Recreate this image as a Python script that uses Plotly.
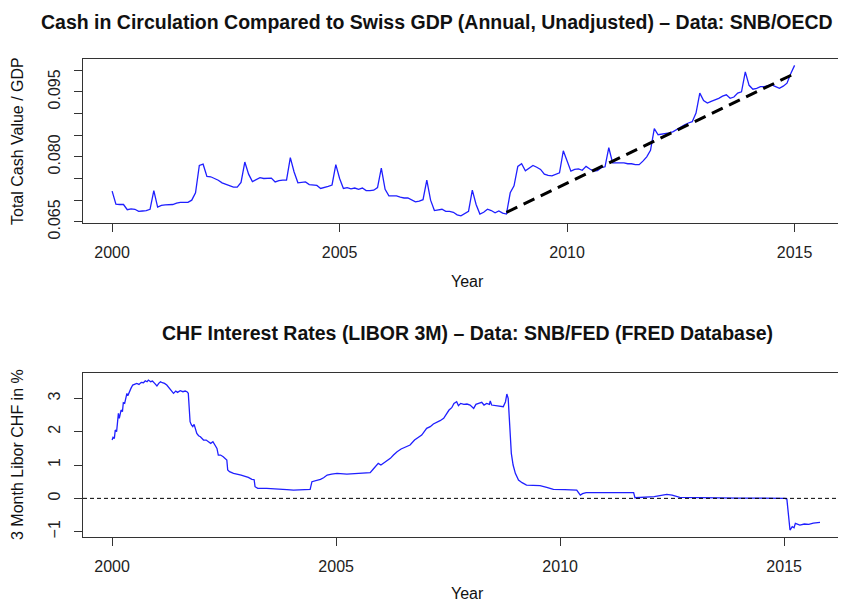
import plotly.graph_objects as go

# ---------------- Data ----------------
# Cash in circulation / GDP, monthly values Jan 2000 ... Jan 2015
cash_ratio = [
    0.0721, 0.0691, 0.0690, 0.0690, 0.0678, 0.0680, 0.0679, 0.0674, 0.0675, 0.0676, 0.0679, 0.0722,  # 2000
    0.0684, 0.0688, 0.0689, 0.0690, 0.0690, 0.0693, 0.0695, 0.0695, 0.0695, 0.0700, 0.0717, 0.0780,  # 2001
    0.0783, 0.0755, 0.0754, 0.0750, 0.0746, 0.0740, 0.0737, 0.0733, 0.0730, 0.0730, 0.0741, 0.0788,  # 2002
    0.0760, 0.0743, 0.0748, 0.0752, 0.0750, 0.0750, 0.0751, 0.0742, 0.0745, 0.0746, 0.0746, 0.0798,  # 2003
    0.0765, 0.0740, 0.0741, 0.0742, 0.0736, 0.0735, 0.0734, 0.0727, 0.0729, 0.0732, 0.0735, 0.0782,  # 2004
    0.0750, 0.0727, 0.0729, 0.0726, 0.0728, 0.0725, 0.0728, 0.0722, 0.0722, 0.0723, 0.0729, 0.0774,  # 2005
    0.0725, 0.0710, 0.0710, 0.0710, 0.0707, 0.0705, 0.0705, 0.0700, 0.0696, 0.0698, 0.0701, 0.0746,  # 2006
    0.0700, 0.0676, 0.0678, 0.0679, 0.0674, 0.0674, 0.0672, 0.0666, 0.0664, 0.0670, 0.0674, 0.0723,  # 2007
    0.0690, 0.0668, 0.0672, 0.0679, 0.0676, 0.0671, 0.0675, 0.0670, 0.0668, 0.0717, 0.0733, 0.0778,  # 2008
    0.0784, 0.0768, 0.0775, 0.0780, 0.0776, 0.0771, 0.0760, 0.0757, 0.0756, 0.0760, 0.0763, 0.0814,  # 2009
    0.0790, 0.0767, 0.0771, 0.0772, 0.0769, 0.0778, 0.0772, 0.0767, 0.0768, 0.0775, 0.0777, 0.0821,  # 2010
    0.0786, 0.0786, 0.0785, 0.0786, 0.0784, 0.0784, 0.0782, 0.0782, 0.0790, 0.0800, 0.0815, 0.0865,  # 2011
    0.0851, 0.0852, 0.0853, 0.0855, 0.0858, 0.0864, 0.0868, 0.0874, 0.0878, 0.0881, 0.0901, 0.0947,  # 2012
    0.0930, 0.0924, 0.0928, 0.0931, 0.0935, 0.0940, 0.0943, 0.0935, 0.0938, 0.0947, 0.0950, 0.0996,  # 2013
    0.0965, 0.0956, 0.0958, 0.0962, 0.0962, 0.0964, 0.0966, 0.0962, 0.0958, 0.0963, 0.0970, 0.0992,  # 2014
    0.1011,                                                                                          # 2015
]
cash_start_year = 2000
cash_years = [cash_start_year + i / 12 for i in range(len(cash_ratio))]

# Linear trend drawn from the 2008 low to early 2015
trend_years = [2008.667, 2015.0]
trend_values = [0.0672, 0.0992]

# CHF LIBOR 3M (percent)
libor_years = [
    2000.00, 2000.02, 2000.05, 2000.07, 2000.10, 2000.12, 2000.14, 2000.16, 2000.18, 2000.20,
    2000.23, 2000.25, 2000.28, 2000.31, 2000.33, 2000.35, 2000.38, 2000.42, 2000.46, 2000.50,
    2000.55, 2000.60, 2000.65, 2000.70, 2000.74, 2000.78, 2000.81, 2000.86, 2000.90, 2000.95,
    2001.00, 2001.04, 2001.08, 2001.12, 2001.17, 2001.22, 2001.28, 2001.33, 2001.37, 2001.42,
    2001.46, 2001.52, 2001.58, 2001.63, 2001.67, 2001.70, 2001.72, 2001.74, 2001.77, 2001.80,
    2001.83, 2001.86, 2001.89, 2001.93, 2001.97, 2002.04, 2002.10, 2002.15, 2002.20, 2002.25,
    2002.30, 2002.34, 2002.37, 2002.42, 2002.48, 2002.54, 2002.56, 2002.58, 2002.62, 2002.71,
    2002.80, 2002.88, 2002.95, 2003.04, 2003.12, 2003.17, 2003.19, 2003.25, 2003.45, 2003.60,
    2003.72, 2003.90, 2004.05, 2004.20, 2004.35, 2004.42, 2004.46, 2004.55, 2004.65, 2004.72,
    2004.80, 2004.90, 2005.02, 2005.24, 2005.46, 2005.60, 2005.76, 2005.83, 2005.90, 2005.94,
    2006.00, 2006.10, 2006.21, 2006.28, 2006.36, 2006.45, 2006.55, 2006.65, 2006.75, 2006.84,
    2006.91, 2007.02, 2007.10, 2007.17, 2007.25, 2007.32, 2007.40, 2007.47, 2007.52, 2007.58,
    2007.63, 2007.69, 2007.73, 2007.78, 2007.85, 2007.92, 2007.99, 2008.07, 2008.12, 2008.18,
    2008.25, 2008.30, 2008.36, 2008.42, 2008.44, 2008.47, 2008.55, 2008.65, 2008.73, 2008.78,
    2008.81, 2008.84, 2008.86, 2008.88, 2008.91, 2008.95, 2009.00, 2009.07, 2009.15, 2009.25,
    2009.40, 2009.55, 2009.70, 2009.85, 2010.10, 2010.37, 2010.45, 2010.50, 2010.58, 2010.90,
    2011.30, 2011.64, 2011.67, 2011.85, 2012.10, 2012.38, 2012.50, 2012.67, 2013.00, 2013.50,
    2014.00, 2014.50, 2014.76, 2015.02, 2015.06, 2015.07, 2015.10, 2015.13, 2015.18, 2015.22,
    2015.25, 2015.35, 2015.45, 2015.55, 2015.65, 2015.75, 2015.80,
]
libor_values = [
    1.75, 1.83, 1.80, 2.05, 2.00, 2.30, 2.55, 2.40, 2.55, 2.65,
    2.60, 2.87, 2.85, 3.05, 3.15, 3.08, 3.20, 3.30, 3.40, 3.43,
    3.45, 3.42, 3.48, 3.47, 3.53, 3.50, 3.55, 3.50, 3.52, 3.45,
    3.37, 3.45, 3.50, 3.47, 3.45, 3.40, 3.30, 3.25, 3.15, 3.22,
    3.18, 3.23, 3.20, 3.22, 3.20, 3.15, 2.60, 2.30, 2.20, 2.15,
    2.22, 2.05, 1.95, 1.88, 1.85, 1.75, 1.75, 1.70, 1.65, 1.70,
    1.60, 1.50, 1.30, 1.30, 1.25, 1.18, 1.15, 0.85, 0.80, 0.75,
    0.73, 0.70, 0.67, 0.63, 0.57, 0.56, 0.35, 0.30, 0.30, 0.28,
    0.28, 0.26, 0.25, 0.26, 0.25, 0.27, 0.50, 0.53, 0.57, 0.62,
    0.70, 0.73, 0.75, 0.73, 0.75, 0.75, 0.77, 0.88, 1.00, 1.05,
    1.00, 1.10, 1.20, 1.30, 1.40, 1.48, 1.53, 1.60, 1.75, 1.85,
    1.90, 2.10, 2.15, 2.23, 2.28, 2.33, 2.40, 2.55, 2.65, 2.72,
    2.85, 2.90, 2.78, 2.85, 2.82, 2.83, 2.80, 2.70, 2.82, 2.85,
    2.88, 2.80, 2.85, 2.82, 2.92, 2.80, 2.78, 2.76, 2.75, 2.90,
    3.13, 3.00, 2.60, 2.15, 1.35, 1.00, 0.75, 0.55, 0.47, 0.40,
    0.40, 0.38, 0.33, 0.27, 0.26, 0.25, 0.10, 0.14, 0.17, 0.17,
    0.17, 0.17, 0.02, 0.04, 0.05, 0.12, 0.10, 0.03, 0.02, 0.02,
    0.01, 0.01, 0.01, 0.00, -0.02, -0.15, -0.60, -0.95, -0.85, -0.88,
    -0.75, -0.80, -0.77, -0.78, -0.74, -0.72, -0.72,
]

year_ticks = [2000, 2005, 2010, 2015]
cash_tick_vals = [0.065, 0.070, 0.075, 0.080, 0.085, 0.090, 0.095, 0.100]
cash_tick_text = ["0.065", "", "", "0.080", "", "", "0.095", ""]
libor_tick_vals = [-1, 0, 1, 2, 3]
libor_tick_text = ["\u22121", "0", "1", "2", "3"]

title_top = "Cash in Circulation Compared to Swiss GDP (Annual, Unadjusted) \u2013 Data: SNB/OECD"
title_bottom = "CHF Interest Rates (LIBOR 3M) \u2013 Data: SNB/FED (FRED Database)"
ylab_top = "Total Cash Value / GDP"
ylab_bottom = "3 Month Libor CHF in %"
xlab = "Year"

# ---------------- Figure ----------------
FONT = "Liberation Sans, Arial, Helvetica, sans-serif"
OFF = 8                      # page body margin of the browser
W, H = 846 - OFF, 602 - OFF  # figure fills the visible window
LINE_BLUE = "#1f1fff"
AX = "#333333"


def px(x):  # window x -> paper fraction
    return (x - OFF) / W


def py(y):  # window y -> paper fraction (from bottom)
    return 1 - (y - OFF) / H


fig = go.Figure()
fig.add_trace(go.Scatter(x=cash_years, y=cash_ratio, mode="lines",
                         line=dict(color=LINE_BLUE, width=1.3),
                         xaxis="x", yaxis="y", hoverinfo="skip"))
fig.add_trace(go.Scatter(x=trend_years, y=trend_values, mode="lines",
                         line=dict(color="black", width=3, dash="12px,7px"),
                         xaxis="x", yaxis="y", hoverinfo="skip"))
fig.add_trace(go.Scatter(x=libor_years, y=libor_values, mode="lines",
                         line=dict(color=LINE_BLUE, width=1.3),
                         xaxis="x2", yaxis="y2", hoverinfo="skip"))

top1, bot1 = 59.3, 222.7
top2, bot2 = 372.7, 536.7

common_x = dict(showgrid=False, zeroline=False, showline=True, linecolor=AX, linewidth=1,
                mirror=True, ticks="outside", ticklen=8, tickcolor=AX, tickwidth=1,
                tickvals=year_ticks, tickfont=dict(family=FONT, size=16, color="#222"),
                ticklabelstandoff=7, automargin=False)
common_y = dict(showgrid=False, zeroline=False, showline=True, linecolor=AX, linewidth=1,
                mirror=False, ticks="outside", ticklen=8, tickcolor=AX, tickwidth=1,
                tickangle=-90, tickfont=dict(family=FONT, size=16, color="#222"),
                ticklabelstandoff=8, automargin=False)

fig.update_layout(
    width=W, height=H,
    margin=dict(l=0, r=0, t=0, b=0),
    paper_bgcolor="white", plot_bgcolor="white",
    showlegend=False,
    font=dict(family=FONT, size=16, color="#222"),
    xaxis=dict(domain=[px(83), 1.0], range=[1999.36, 2016.13], anchor="y", **common_x),
    yaxis=dict(domain=[py(bot1), py(top1)], range=[0.0648, 0.1025], anchor="x",
               tickvals=cash_tick_vals, ticktext=cash_tick_text, **common_y),
    xaxis2=dict(domain=[px(83), 1.0], range=[1999.35, 2016.38], anchor="y2", **common_x),
    yaxis2=dict(domain=[py(bot2), py(top2)], range=[-1.15, 3.77], anchor="x2",
                tickvals=libor_tick_vals, ticktext=libor_tick_text, **common_y),
)

# zero reference line in the lower panel
fig.add_shape(type="line", xref="x2 domain", yref="y2", x0=0, x1=1, y0=0, y1=0,
              line=dict(color="black", width=1, dash="4px,3px"))


def ann(text, x, y, size=16, bold=False, angle=0):
    fig.add_annotation(text=f"<b>{text}</b>" if bold else text,
                       xref="paper", yref="paper", x=px(x), y=py(y),
                       xanchor="center", yanchor="middle", showarrow=False,
                       textangle=angle, font=dict(family=FONT, size=size, color="#111"))


ann(title_top, 437, 22, size=19.5, bold=True)
ann(title_bottom, 467, 333, size=19.5, bold=True)
ann(xlab, 467, 281)
ann(xlab, 467, 593)
ann(ylab_top, 17, 141, angle=-90)
ann(ylab_bottom, 17, 455, angle=-90)

fig.write_html("out.html")
